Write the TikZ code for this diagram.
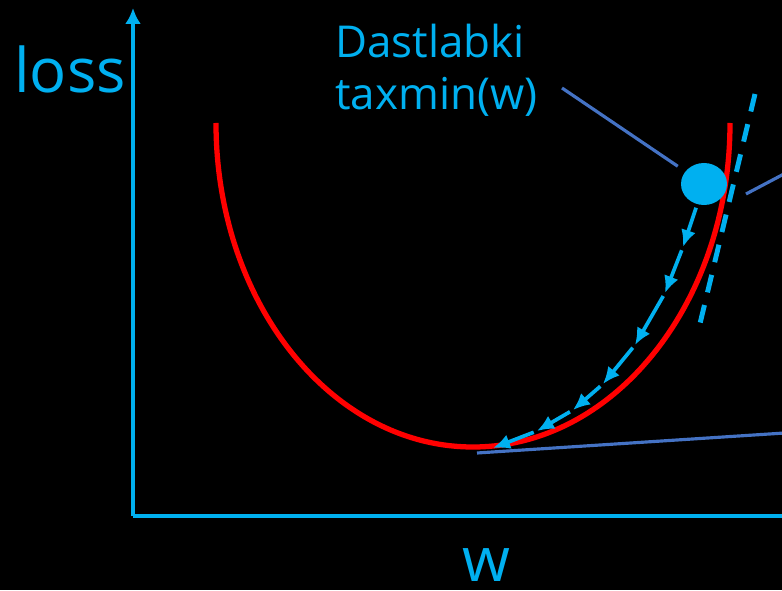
\documentclass[tikz,border=0pt]{standalone}
\usepackage{fontspec}
\setmainfont{Open Sans}
\usepackage{tikz}
\usetikzlibrary{arrows.meta,shapes.geometric}
\definecolor{skyblue}{HTML}{00B0F0}
\definecolor{lineblue}{HTML}{4472C4}
\tikzset{
  axis/.style={skyblue,line width=1.9pt},
  bigtext/.style={text=skyblue,font=\fontsize{35}{40}\selectfont,inner sep=0pt},
  guesstext/.style={text=skyblue,font=\fontsize{25}{30}\selectfont,inner sep=0pt,align=left},
  lossline/.style={red,line width=3pt},
  dot/.style={ellipse,fill=skyblue,minimum width=0.92cm,minimum height=0.84cm,inner sep=0pt},
  pointer/.style={lineblue,line width=1.8pt},
  tangent/.style={skyblue,line width=2.8pt,dash pattern=on 0.36cm off 0.26cm},
  descent/.style={skyblue,line width=2.1pt,shorten <=2pt,-{Latex[length=0.34cm,width=0.3cm]}}
}
\begin{document}
\begin{tikzpicture}[>=Latex]
\fill[black] (0,0) rectangle (15.64,11.8);
\clip (0,0) rectangle (15.64,11.8);
\coordinate (O) at (2.66,1.48);
\coordinate (ytop) at (2.66,11.64);
\coordinate (xend) at (16,1.48);
\draw[axis,-{Latex[length=0.32cm,width=0.32cm]}] (O) -- (ytop);
\draw[axis] (O) -- (xend);
\node[bigtext,anchor=base] (ylab) at (1.4,9.94) {loss};
\node[bigtext,anchor=base] (xlab) at (9.72,0.18) {w};
\draw[lossline] (4.32,9.34) arc (180:360:5.14 and 6.48);
\draw[tangent] (15.1,9.92) -- (13.96,5.16);
\node[dot] (dot) at (14.08,8.12) {};
\node[guesstext,anchor=base west] (guess) at (6.7,9.6) {Dastlabki\\taxmin(w)};
\coordinate (c1) at (11.24,10.04);
\coordinate (c2) at (14.92,7.92);
\coordinate (c3) at (16,8.49);
\coordinate (c4) at (9.54,2.74);
\coordinate (c5) at (16,3.16);
\draw[pointer,shorten >=0.18cm] (c1) -- (dot);
\draw[pointer] (c2) -- (c3);
\draw[pointer] (c4) -- (c5);
\foreach \x/\y [count=\i] in {13.66/6.86,13.30/5.94,12.70/4.90,12.06/4.12,11.46/3.60,10.74/3.18,9.86/2.84}
  \coordinate (s\i) at (\x,\y);
\foreach \a/\b in {dot/s1,s1/s2,s2/s3,s3/s4,s4/s5,s5/s6,s6/s7}
  \draw[descent] (\a) -- (\b);
\end{tikzpicture}
\end{document}
